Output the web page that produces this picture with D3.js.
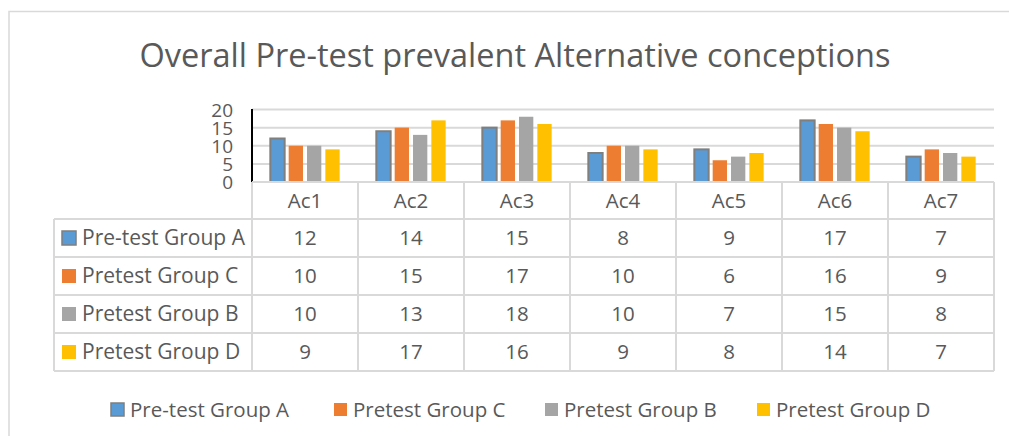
<!DOCTYPE html>
<html>
<head>
<meta charset="utf-8">
<script src="https://cdn.jsdelivr.net/npm/d3@7"></script>
<style>
  html, body { margin: 0; padding: 0; background: #fff; }
  text { font-family: "Open Sans", "Noto Sans", sans-serif; fill: #595959; }
</style>
</head>
<body>
<svg id="chart" width="1009" height="441"></svg>
<script>
const categories = ['Ac1', 'Ac2', 'Ac3', 'Ac4', 'Ac5', 'Ac6', 'Ac7'];
const seriesNames = ['Pre-test Group A', 'Pretest Group C', 'Pretest Group B', 'Pretest Group D'];
const groupA = [12, 14, 15, 8, 9, 17, 7];
const groupC = [10, 15, 17, 10, 6, 16, 9];
const groupB = [10, 13, 18, 10, 7, 15, 8];
const groupD = [9, 17, 16, 9, 8, 14, 7];
const yTicks = [0, 5, 10, 15, 20];
const colors = ['#5B9BD5', '#ED7D31', '#A5A5A5', '#FFC000'];

const series = seriesNames.map((name, i) => ({
    name, color: colors[i], values: [groupA, groupC, groupB, groupD][i]
}));

const svg = d3.select('#chart');
const GRID = '#d9d9d9';

// outer chart border (top + left only visible)
svg.append('path')
    .attr('d', 'M9,436 V11.5 H1009')
    .attr('fill', 'none').attr('stroke', GRID).attr('stroke-width', 1.5);

svg.append('text')
    .attr('x', 515).attr('y', 67)
    .attr('text-anchor', 'middle')
    .attr('font-size', 32.5)
    .text('Overall Pre-test prevalent Alternative conceptions');

const plotLeft = 252, plotRight = 994;
const x = d3.scaleBand().domain(categories).range([plotLeft, plotRight]);
const y = d3.scaleLinear().domain([0, 20]).range([182, 109.5]);
const xs = d3.scaleBand().domain(seriesNames).range([0, x.bandwidth()])
    .paddingInner(0.22).paddingOuter(1.0);

// gridlines
svg.append('g').selectAll('line').data(yTicks.filter(d => d > 0)).join('line')
    .attr('x1', plotLeft).attr('x2', plotRight)
    .attr('y1', d => y(d)).attr('y2', d => y(d))
    .attr('stroke', GRID).attr('stroke-width', 2);

// y axis labels
const yAxis = d3.axisLeft(y).tickValues(yTicks).tickSize(0).tickPadding(0);
const yg = svg.append('g').attr('transform', 'translate(233,0)').call(yAxis);
yg.select('.domain').remove();
yg.selectAll('text')
    .attr('font-size', 19)
    .attr('font-family', '"Open Sans", sans-serif')
    .attr('fill', '#595959')
    .attr('dy', '0.36em');

// bars
series.forEach(s => {
    svg.append('g').selectAll('rect').data(s.values).join('rect')
        .attr('x', (d, i) => x(categories[i]) + xs(s.name))
        .attr('width', xs.bandwidth())
        .attr('y', d => y(d))
        .attr('height', d => y(0) - y(d))
        .attr('fill', s.color)
        .attr('stroke', s.name === seriesNames[0] ? '#7f7f7f' : 'none')
        .attr('stroke-width', 2);
});

// axis line
svg.append('line')
    .attr('x1', plotLeft).attr('x2', plotLeft)
    .attr('y1', 109).attr('y2', 182)
    .attr('stroke', '#000').attr('stroke-width', 2);

// data table
const tableLeft = 54, headerTop = 182, rowH = 38;
const rowTop = i => 219 + i * rowH;
const tableBottom = rowTop(series.length);
const tg = svg.append('g');

// horizontal lines
tg.append('line').attr('x1', plotLeft).attr('x2', plotRight)
    .attr('y1', headerTop).attr('y2', headerTop)
    .attr('stroke', GRID).attr('stroke-width', 2);
d3.range(series.length + 1).forEach(i => {
    tg.append('line').attr('x1', tableLeft).attr('x2', plotRight)
        .attr('y1', rowTop(i)).attr('y2', rowTop(i))
        .attr('stroke', GRID).attr('stroke-width', 2);
});
// vertical lines
tg.append('line').attr('x1', tableLeft).attr('x2', tableLeft)
    .attr('y1', rowTop(0)).attr('y2', tableBottom)
    .attr('stroke', GRID).attr('stroke-width', 2);
categories.concat(['end']).forEach((c, i) => {
    const xx = i < categories.length ? x(c) : plotRight;
    tg.append('line').attr('x1', xx).attr('x2', xx)
        .attr('y1', headerTop).attr('y2', tableBottom)
        .attr('stroke', GRID).attr('stroke-width', 2);
});

// header labels
tg.selectAll('text.cat').data(categories).join('text')
    .attr('class', 'cat')
    .attr('x', d => x(d) + x.bandwidth() / 2)
    .attr('y', headerTop + 26)
    .attr('text-anchor', 'middle')
    .attr('font-size', 20.5)
    .text(d => d);

series.forEach((s, r) => {
    const top = rowTop(r);
    tg.append('rect')
        .attr('x', 62).attr('y', top + 12)
        .attr('width', 14).attr('height', 14)
        .attr('fill', s.color)
        .attr('stroke', r === 0 ? '#7f7f7f' : 'none')
        .attr('stroke-width', 1.5);
    tg.append('text')
        .attr('x', 82).attr('y', top + 26)
        .attr('font-size', 21)
        .text(s.name);
    tg.selectAll(null).data(s.values).join('text')
        .attr('x', (d, i) => x(categories[i]) + x.bandwidth() / 2)
        .attr('y', top + 26)
        .attr('text-anchor', 'middle')
        .attr('font-size', 20.5)
        .text(d => d);
});

// bottom legend
const legendX = [111, 334, 545, 757];
const lg = svg.append('g');
series.forEach((s, i) => {
    lg.append('rect')
        .attr('x', legendX[i]).attr('y', 403)
        .attr('width', 13).attr('height', 13)
        .attr('fill', s.color)
        .attr('stroke', i === 0 ? '#7f7f7f' : 'none')
        .attr('stroke-width', 1.5);
    lg.append('text')
        .attr('x', legendX[i] + 19).attr('y', 417)
        .attr('font-size', 20.5)
        .text(s.name);
});
</script>
</body>
</html>
